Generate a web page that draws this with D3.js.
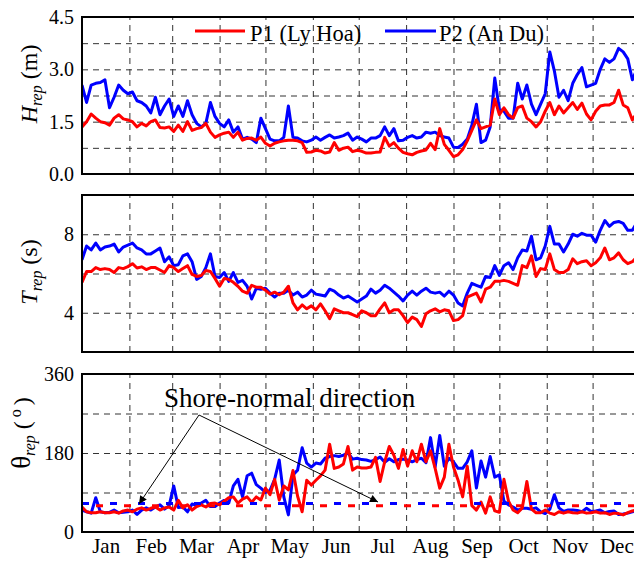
<!DOCTYPE html>
<html><head><meta charset="utf-8">
<script src="https://cdn.jsdelivr.net/npm/d3@7"></script>
<style>
body{margin:0;background:#fff}
svg{display:block}
text{font-family:"Liberation Serif","Times New Roman",serif;fill:#000}
</style>
</head><body>
<svg id="chart" width="634" height="561"></svg>
<script>
// ---------------- data ----------------
const monthLabels = ["Jan","Feb","Mar","Apr","May","Jun","Jul","Aug","Sep","Oct","Nov","Dec"];
const monthStarts = [0,31,59,90,120,151,181,212,243,273,304,334,365];
const sampleStep = 3; // days between samples (day 0, 3, 6, ...)

// Representative wave height (m)
const H_P1 = [1.35,1.5,1.72,1.6,1.5,1.47,1.4,1.6,1.7,1.58,
  1.55,1.5,1.35,1.45,1.38,1.5,1.55,1.33,1.32,1.35,
  1.22,1.4,1.22,1.5,1.25,1.3,1.33,1.45,1.2,1.05,
  1.12,1.17,1.2,1.05,1.2,0.97,1.02,1.03,0.97,1.06,
  0.88,0.8,0.88,0.92,0.95,0.97,0.97,0.95,0.9,0.62,
  0.63,0.68,0.66,0.6,0.63,0.9,0.68,0.74,0.77,0.64,
  0.68,0.65,0.6,0.6,0.62,0.63,1.05,0.8,0.9,0.74,
  0.62,0.58,0.55,0.62,0.66,0.69,0.88,0.7,1.3,0.85,
  0.68,0.5,0.55,0.7,0.95,1.25,1.55,1.3,1.35,1.4,
  2.15,1.7,1.9,1.7,1.6,1.9,1.95,1.6,1.5,1.35,
  1.5,1.8,2.05,1.7,1.95,1.75,1.9,2.05,1.85,2.03,
  1.72,1.55,1.8,1.95,1.98,1.98,2.05,2.4,1.98,1.9,
  1.55,1.75];
const H_P2 = [2.55,2.05,2.55,2.6,2.62,2.7,1.9,2.2,2.55,2.4,
  2.3,2.35,2.1,2.05,1.95,1.75,2.2,1.7,1.95,2.15,
  1.65,1.95,1.65,2.1,1.7,1.45,1.35,1.45,2.05,1.65,
  1.45,1.35,1.55,1.2,1.35,1.0,1.05,1.0,0.9,1.6,
  1.3,1.0,0.95,0.95,1.05,1.95,1.05,1.03,0.95,0.92,
  0.97,1.06,0.97,1.05,1.12,1.03,1.06,1.1,1.17,0.97,
  1.06,1.0,0.92,1.03,1.03,1.1,1.35,1.1,1.3,0.95,
  0.97,1.05,1.1,1.03,1.06,1.2,1.17,1.2,1.1,1.06,
  1.03,0.77,0.76,0.85,1.0,1.4,2.0,0.9,0.97,1.35,
  2.75,1.85,1.8,1.6,1.6,2.6,2.15,2.55,2.0,1.7,
  2.0,2.3,3.5,2.95,2.2,2.4,2.1,2.6,2.85,3.05,
  2.5,2.55,2.6,3.0,3.3,3.2,3.3,3.6,3.5,3.3,
  2.7,3.0];

// Representative wave period (s)
const T_P1 = [5.55,6.1,6.1,6.3,6.2,6.25,6.2,6.05,6.3,6.25,
  6.35,6.5,6.28,6.34,6.2,6.3,6.3,6.18,6.05,6.4,
  6.3,6.1,6.25,6.4,5.95,5.85,5.9,6.15,6.1,5.75,
  5.35,5.75,5.7,5.55,5.35,5.1,5.0,5.4,5.3,5.3,
  5.15,4.95,5.05,4.92,5.05,5.35,4.5,4.15,4.4,4.2,
  4.35,4.15,4.45,4.1,3.7,4.2,4.1,4.0,4.0,3.9,
  3.8,4.1,4.0,3.85,3.85,4.2,4.5,4.0,4.15,4.15,
  3.85,3.5,3.78,3.65,3.3,3.95,4.1,4.2,4.05,4.15,
  4.1,3.6,3.65,3.85,4.8,4.9,5.0,4.55,5.2,5.3,
  5.6,5.6,5.65,5.6,5.5,5.4,6.4,6.3,6.9,5.85,
  6.25,6.2,7.0,6.2,6.05,6.05,6.2,6.75,6.5,6.6,
  6.65,6.4,6.55,6.8,7.3,6.7,6.8,7.05,6.7,6.5,
  6.6,6.85];
const T_P2 = [6.7,7.4,7.2,7.55,7.2,7.35,7.4,7.5,7.1,7.35,
  7.45,7.55,7.3,7.2,7.0,7.0,7.15,7.3,6.6,6.85,
  6.4,6.45,6.9,7.0,6.6,5.7,5.85,6.3,7.0,5.85,
  5.8,6.05,5.6,6.05,5.55,5.65,5.35,4.7,5.25,5.2,
  5.25,5.0,4.8,5.0,5.0,5.15,4.9,5.05,4.8,4.9,
  5.15,4.95,4.9,4.85,5.2,5.1,4.9,4.75,4.85,4.7,
  4.55,4.7,4.85,5.2,5.0,5.15,5.4,5.25,5.05,4.85,
  4.6,4.9,5.1,4.9,5.1,5.25,5.05,5.0,5.05,4.85,
  5.1,4.9,4.5,4.35,5.0,5.5,5.4,5.3,5.85,5.8,
  6.4,5.9,6.4,6.55,6.2,6.8,7.2,7.15,7.9,6.7,
  6.8,7.4,8.4,7.5,7.5,7.1,7.5,8.0,7.9,8.05,
  7.95,7.95,7.6,8.2,8.7,8.4,8.6,8.65,8.55,8.2,
  8.2,8.6];

// Representative wave direction (deg)
const D_P1 = [57,46,44,44,46,44,44,46,43,48,
  50,46,52,55,50,54,57,50,55,57,
  50,72,55,62,50,58,62,57,65,66,
  62,70,78,80,66,75,80,68,80,73,
  100,85,120,73,105,96,140,82,46,118,
  107,118,128,141,200,145,148,155,195,141,
  148,146,146,148,170,115,160,195,175,145,
  188,150,185,160,200,160,185,145,100,125,
  200,148,118,80,150,60,50,68,43,80,
  48,45,120,70,50,44,55,115,52,44,
  44,50,43,40,46,43,46,44,43,46,
  43,44,46,43,44,40,43,42,39,44,
  48,50];
const D_P2 = [50,46,43,78,46,44,45,50,44,45,
  46,50,40,50,55,50,57,62,52,60,
  105,56,57,46,64,60,66,72,58,58,
  66,72,66,105,120,80,128,134,108,100,
  90,95,120,164,80,39,130,141,192,157,
  148,157,155,168,172,174,172,175,180,166,
  168,165,164,161,165,171,159,167,160,165,
  166,164,160,165,168,158,215,148,220,150,
  168,160,145,145,160,185,100,162,125,172,
  125,130,70,62,57,50,54,54,52,55,
  46,42,52,85,55,47,50,50,49,46,
  54,47,48,50,44,47,48,40,41,43,
  46,48];

const shoreNormalP1 = 60;
const shoreNormalP2 = 65;

const hTicks = [0, 1.5, 3.0, 4.5], hGrid = [0.75, 1.5, 2.25, 3.0, 3.75];
const tTicks = [4, 8],            tGrid = [4, 6, 8];
const dTicks = [0, 180, 360],     dGrid = [90, 180, 270];

// ---------------- drawing ----------------
const RED = "#ff0000", BLUE = "#0000ff";
const FONT = "Liberation Serif";
const svg = d3.select("#chart");
const x = d3.scaleLinear().domain([0, 365]).range([82, 640]);

const defs = svg.append("defs");
defs.append("marker").attr("id","ah").attr("viewBox","0 0 10 10")
  .attr("refX",10).attr("refY",5).attr("markerWidth",11).attr("markerHeight",8)
  .attr("markerUnits","userSpaceOnUse").attr("orient","auto")
  .append("path").attr("d","M0,0L10,5L0,10Z").attr("fill","#000");

const panels = [
  {top:17,  bottom:174, domain:[0,4.5], ticks:hTicks, grid:hGrid, fmt:d3.format(".1f"), s1:H_P1, s2:H_P2},
  {top:195, bottom:352, domain:[2,10],  ticks:tTicks, grid:tGrid, fmt:d3.format("d"),   s1:T_P1, s2:T_P2},
  {top:374, bottom:532, domain:[0,360], ticks:dTicks, grid:dGrid, fmt:d3.format("d"),   s1:D_P1, s2:D_P2}
];

panels.forEach((p, i) => {
  const y = d3.scaleLinear().domain(p.domain).range([p.bottom, p.top]);
  const g = svg.append("g");
  const W = x.range()[1] - x.range()[0];

  defs.append("clipPath").attr("id","clip"+i).append("rect")
    .attr("x",x.range()[0]).attr("y",p.top).attr("width",W).attr("height",p.bottom-p.top);

  // horizontal grid
  g.append("g").attr("transform",`translate(${x.range()[0]},0)`)
    .call(d3.axisLeft(y).tickValues(p.grid).tickSize(-W).tickFormat(""))
    .call(a => a.select(".domain").remove())
    .call(a => a.selectAll("line").attr("stroke","#333").attr("stroke-dasharray","6,5").attr("stroke-width",1));

  // vertical grid at month boundaries
  g.append("g").attr("transform",`translate(0,${p.bottom})`)
    .call(d3.axisBottom(x).tickValues(monthStarts.slice(1,12)).tickSize(-(p.bottom-p.top)).tickFormat(""))
    .call(a => a.select(".domain").remove())
    .call(a => a.selectAll("line").attr("stroke","#333").attr("stroke-dasharray","6,5").attr("stroke-width",1));

  // y tick labels
  g.append("g").attr("transform",`translate(${x.range()[0]},0)`)
    .call(d3.axisLeft(y).tickValues(p.ticks).tickSize(0).tickPadding(8).tickFormat(p.fmt))
    .call(a => a.select(".domain").remove())
    .call(a => a.selectAll("text").attr("font-size",20).attr("font-family",FONT));

  const line = d3.line().x((d, j) => x(j * sampleStep)).y(d => y(d));
  const lg = g.append("g").attr("clip-path",`url(#clip${i})`);
  lg.append("path").datum(p.s2).attr("d",line).attr("fill","none").attr("stroke",BLUE)
    .attr("stroke-width",3).attr("stroke-linejoin","round");
  lg.append("path").datum(p.s1).attr("d",line).attr("fill","none").attr("stroke",RED)
    .attr("stroke-width",3).attr("stroke-linejoin","round");

  if (i === 2) {
    lg.append("line").attr("x1",x(0)).attr("x2",x(365))
      .attr("y1",y(shoreNormalP2)).attr("y2",y(shoreNormalP2))
      .attr("stroke",BLUE).attr("stroke-width",3).attr("stroke-dasharray","7,21");
    lg.append("line").attr("x1",x(0)).attr("x2",x(365))
      .attr("y1",y(shoreNormalP1)).attr("y2",y(shoreNormalP1))
      .attr("stroke",RED).attr("stroke-width",3).attr("stroke-dasharray","7,21").attr("stroke-dashoffset",-14);
  }

  // frame
  g.append("rect").attr("x",x.range()[0]).attr("y",p.top).attr("width",W).attr("height",p.bottom-p.top)
    .attr("fill","none").attr("stroke","#000").attr("stroke-width",2);
});

// month labels
const monthMid = monthLabels.map((m, k) => (monthStarts[k] + monthStarts[k+1]) / 2);
svg.append("g").attr("transform",`translate(0,${panels[2].bottom})`)
  .call(d3.axisBottom(x).tickValues(monthMid).tickSize(0).tickPadding(6)
    .tickFormat((d, k) => monthLabels[k]))
  .call(a => a.select(".domain").remove())
  .call(a => a.selectAll("text").attr("font-size",21).attr("font-family",FONT));

// y axis titles
function yTitle(cx, cy, main, mainItalic, unitParts) {
  const t = svg.append("text").attr("transform",`translate(${cx},${cy}) rotate(-90)`)
    .attr("text-anchor","middle").attr("font-size",24);
  t.append("tspan").text(main).attr("font-style", mainItalic ? "italic" : "normal")
    .attr("font-size", mainItalic ? 24 : 27);
  t.append("tspan").text("rep").attr("font-style","italic").attr("font-size",16).attr("dy",5);
  unitParts(t);
}
yTitle(37, 84, "H", true, t => t.append("tspan").attr("dy",-5).text(" (m)"));
yTitle(37, 272, "T", true, t => t.append("tspan").attr("dy",-5).text(" (s)"));
yTitle(30, 433, "θ", false, t => {
  t.append("tspan").attr("dy",-5).text("  (");
  t.append("tspan").attr("dy",-9).attr("font-size",16).text(" o ");
  t.append("tspan").attr("dy",9).text(")");
});

// legend
const leg = svg.append("g");
leg.append("line").attr("x1",195).attr("x2",245).attr("y1",31).attr("y2",31).attr("stroke",RED).attr("stroke-width",3);
leg.append("text").attr("x",250).attr("y",40.5).attr("font-size",22.5).text("P1 (Ly Hoa)");
leg.append("line").attr("x1",385).attr("x2",436).attr("y1",31).attr("y2",31).attr("stroke",BLUE).attr("stroke-width",3);
leg.append("text").attr("x",439).attr("y",40.5).attr("font-size",22.5).text("P2 (An Du)");

// annotation
svg.append("text").attr("x",164).attr("y",407).attr("font-size",27).text("Shore-normal direction");
const apex = [199, 415];
[[139, 504], [378, 502]].forEach(tip => {
  svg.append("line").attr("x1",apex[0]).attr("y1",apex[1]).attr("x2",tip[0]).attr("y2",tip[1])
    .attr("stroke","#000").attr("stroke-width",1).attr("marker-end","url(#ah)");
});
</script>
</body></html>
